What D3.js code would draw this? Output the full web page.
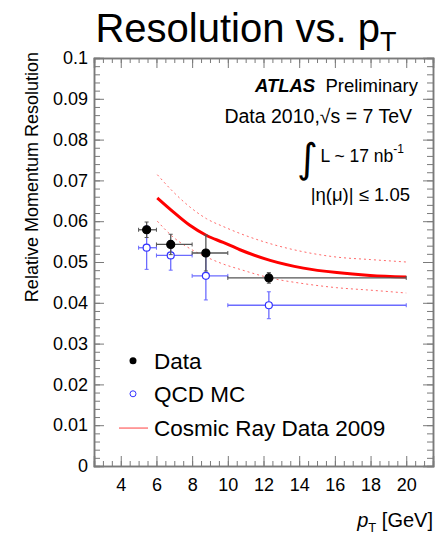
<!DOCTYPE html>
<html>
<head>
<meta charset="utf-8">
<script src="https://cdn.jsdelivr.net/npm/d3@7"></script>
<style>
  body { margin: 0; background: #fff; }
  text { font-family: "Liberation Sans", Arial, sans-serif; }
</style>
</head>
<body>
<div id="chart"></div>
<script>
// measured points (pT bins)
var ptMean = [5.45, 6.8, 8.77, 12.3];
var ptLow = [5.0, 6.0, 8.0, 10.0];
var ptHigh = [6.0, 8.0, 10.0, 20.0];
var dataRes = [0.0579, 0.0543, 0.0522, 0.0461];
var dataErr = [0.0019, 0.0025, 0.0044, 0.0013];
var mcRes = [0.0535, 0.0516, 0.0466, 0.0394];
var mcErr = [0.0053, 0.0036, 0.0059, 0.0033];

// cosmic ray curve and its band
var cosmicPt = [6.05, 6.94, 7.87, 8.81, 9.74, 10.68, 12.37, 14.24, 16.11, 17.98, 20.0];
var cosmicRes = [0.0657, 0.0623, 0.0590, 0.0565, 0.0548, 0.0530, 0.0504, 0.0485, 0.0474, 0.0467, 0.0463];
var cosmicUp = [0.0714, 0.0672, 0.0635, 0.0606, 0.0587, 0.0570, 0.0545, 0.0525, 0.0512, 0.0506, 0.0500];
var cosmicDown = [0.0600, 0.0561, 0.0533, 0.0512, 0.0495, 0.0482, 0.0461, 0.0447, 0.0437, 0.0431, 0.0424];

var xTicks = [4, 6, 8, 10, 12, 14, 16, 18, 20];
var yTicks = [0, 0.01, 0.02, 0.03, 0.04, 0.05, 0.06, 0.07, 0.08, 0.09, 0.1];
var legendLabels = ["Data", "QCD MC", "Cosmic Ray Data 2009"];

var W = 446, H = 535;
var svg = d3.select("#chart").append("svg")
    .attr("width", W)
    .attr("height", H);

var x = d3.scaleLinear().domain([2.5, 21.5]).range([94, 433]);
var y = d3.scaleLinear().domain([0, 0.1]).range([466, 58]);

var frameColor = "#7a7a7a";

//////////
// AXES //
//////////
var fmtY = function(d) { return d === 0 ? "0" : d3.format(".2~f")(d); };

var minorX = d3.range(2.5, 21.51, 0.5);
var minorY = d3.range(0, 0.1001, 0.002);

// bottom + top
svg.append("g")
    .attr("transform", "translate(0," + y(0) + ")")
    .call(d3.axisBottom(x).tickValues(minorX).tickSize(-5).tickFormat(""));
svg.append("g")
    .attr("class", "xmajor")
    .attr("transform", "translate(0," + y(0) + ")")
    .call(d3.axisBottom(x).tickValues(xTicks).tickSize(-10));
svg.append("g")
    .attr("transform", "translate(0," + y(0.1) + ")")
    .call(d3.axisTop(x).tickValues(minorX).tickSize(-5).tickFormat(""));
svg.append("g")
    .attr("transform", "translate(0," + y(0.1) + ")")
    .call(d3.axisTop(x).tickValues(xTicks).tickSize(-10).tickFormat(""));

// left + right
svg.append("g")
    .attr("transform", "translate(" + x(2.5) + ",0)")
    .call(d3.axisLeft(y).tickValues(minorY).tickSize(-6).tickFormat(""));
svg.append("g")
    .attr("class", "ymajor")
    .attr("transform", "translate(" + x(2.5) + ",0)")
    .call(d3.axisLeft(y).tickValues(yTicks).tickSize(-10).tickFormat(fmtY));
svg.append("g")
    .attr("transform", "translate(" + x(21.5) + ",0)")
    .call(d3.axisRight(y).tickValues(minorY).tickSize(-6).tickFormat(""));
svg.append("g")
    .attr("transform", "translate(" + x(21.5) + ",0)")
    .call(d3.axisRight(y).tickValues(yTicks).tickSize(-10).tickFormat(""));

svg.selectAll(".domain").attr("stroke", frameColor).attr("stroke-width", 1.5);
svg.selectAll(".tick line").attr("stroke", frameColor);
svg.selectAll(".tick text")
    .attr("fill", "#000")
    .style("font-size", "18px")
    .style("font-family", "'Liberation Sans', Arial, sans-serif");
svg.selectAll(".ymajor .tick text").attr("x", -6);
svg.selectAll(".xmajor .tick text").attr("y", 12).attr("dy", "0.71em");

// titles
var title = svg.append("text")
    .attr("x", 246)
    .attr("y", 42)
    .attr("text-anchor", "middle")
    .style("font-size", "40px");
title.append("tspan").text("Resolution vs. p");
title.append("tspan").attr("dy", 9).style("font-size", "27px").text("T");

svg.append("text")
    .attr("transform", "translate(38," + (y(0.1) - 6) + ") rotate(-90)")
    .attr("text-anchor", "end")
    .style("font-size", "18px")
    .text("Relative Momentum Resolution");

var xl = svg.append("text")
    .attr("x", 433)
    .attr("y", 527)
    .attr("text-anchor", "end")
    .style("font-size", "20px");
xl.append("tspan").style("font-style", "italic").text("p");
xl.append("tspan").attr("dy", 5).style("font-size", "13px").text("T");
xl.append("tspan").attr("dy", -5).text(" [GeV]");

/////////////
// COSMICS //
/////////////
var line = function(vals) {
    return d3.line()
        .x(function(d, i) { return x(cosmicPt[i]); })
        .y(function(d) { return y(d); })
        .curve(d3.curveMonotoneX)(vals);
};

svg.append("path")
    .attr("d", line(cosmicUp))
    .attr("fill", "none")
    .attr("stroke", "#ff6a6a")
    .attr("stroke-width", 1)
    .attr("stroke-dasharray", "2,3");
svg.append("path")
    .attr("d", line(cosmicDown))
    .attr("fill", "none")
    .attr("stroke", "#ff6a6a")
    .attr("stroke-width", 1)
    .attr("stroke-dasharray", "2,3");

///////////////////
// ERROR BARS    //
///////////////////
var drawPoints = function(res, err, color, filled) {
    var g = svg.append("g");
    ptMean.forEach(function(pt, i) {
        var cx = x(pt), cy = y(res[i]);
        // horizontal bar
        g.append("line")
            .attr("x1", x(ptLow[i])).attr("x2", x(ptHigh[i]))
            .attr("y1", cy).attr("y2", cy)
            .attr("stroke", color).attr("stroke-width", 1.3);
        // vertical bar
        g.append("line")
            .attr("x1", cx).attr("x2", cx)
            .attr("y1", y(res[i] + err[i])).attr("y2", y(res[i] - err[i]))
            .attr("stroke", color).attr("stroke-width", 1.3);
        // caps
        [ptLow[i], ptHigh[i]].forEach(function(v) {
            g.append("line")
                .attr("x1", x(v)).attr("x2", x(v))
                .attr("y1", cy - 2).attr("y2", cy + 2)
                .attr("stroke", color);
        });
        [res[i] + err[i], res[i] - err[i]].forEach(function(v) {
            g.append("line")
                .attr("x1", cx - 2).attr("x2", cx + 2)
                .attr("y1", y(v)).attr("y2", y(v))
                .attr("stroke", color);
        });
        g.append("circle")
            .attr("cx", cx).attr("cy", cy)
            .attr("r", filled ? 4 : 3.5)
            .attr("fill", filled ? "#000" : "#fff")
            .attr("stroke", filled ? "#000" : "#3333ff")
            .attr("stroke-width", 1.2);
    });
};

drawPoints(mcRes, mcErr, "#6b6bff", false);

svg.append("path")
    .attr("d", line(cosmicRes))
    .attr("fill", "none")
    .attr("stroke", "#ff0000")
    .attr("stroke-width", 3);

drawPoints(dataRes, dataErr, "#555", true);

////////////
// LABELS //
////////////
var lab = svg.append("g").style("font-size", "18.5px").attr("text-anchor", "end");
var l1 = lab.append("text").attr("x", 418).attr("y", 92);
l1.append("tspan").style("font-weight", "bold").style("font-style", "italic").text("ATLAS");
l1.append("tspan").text("\u00A0 Preliminary");

lab.append("text").attr("x", 412).attr("y", 123).style("font-size", "19.5px")
    .text("Data 2010,\u221As = 7 TeV");

var l3 = lab.append("text").attr("x", 404).attr("y", 162).style("font-size", "17.5px");
l3.append("tspan").text("L ~ 17 nb");
l3.append("tspan").attr("dy", -9).style("font-size", "12px").text("-1");
svg.append("text")
    .attr("x", 297).attr("y", 172)
    .style("font-size", "40px")
    .style("font-family", "'DejaVu Sans', sans-serif")
    .text("\u222B");

lab.append("text").attr("x", 410).attr("y", 201)
    .text("|\u03B7(\u03BC)| \u2264 1.05");

////////////
// LEGEND //
////////////
var legY = [0.0258, 0.0177, 0.0093];
var leg = svg.append("g");
leg.selectAll("text")
    .data(legendLabels)
    .enter()
    .append("text")
        .attr("x", 154)
        .attr("y", function(d, i) { return y(legY[i]); })
        .attr("dy", "0.36em")
        .style("font-size", "22.5px")
        .text(function(d) { return d; });

leg.append("circle").attr("cx", 133).attr("cy", y(legY[0]))
    .attr("r", 3.5).attr("fill", "#000");
leg.append("circle").attr("cx", 133).attr("cy", y(legY[1]))
    .attr("r", 3).attr("fill", "#fff").attr("stroke", "#3333ff");
leg.append("line")
    .attr("x1", 119).attr("x2", 148)
    .attr("y1", y(legY[2])).attr("y2", y(legY[2]))
    .attr("stroke", "#ff4040").attr("stroke-width", 1);
</script>
</body>
</html>
